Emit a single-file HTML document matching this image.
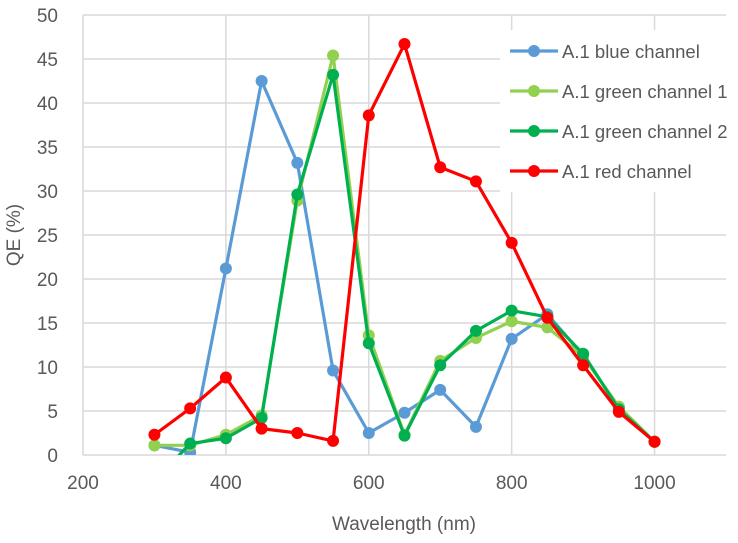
<!DOCTYPE html>
<html><head><meta charset="utf-8"><style>
body{margin:0;background:#fff}
svg text{font-family:"Liberation Sans",sans-serif;fill:#595959}
</style></head><body>
<svg id="chart" width="738" height="538">
<defs><clipPath id="clip"><rect x="83" y="10" width="643" height="445"/></clipPath></defs>
<g id="grid"></g><g id="axes"></g><g id="series" clip-path="url(#clip)"></g><g id="legend"></g>
</svg>
<script>
const wavelengths=[300,350,400,450,500,550,600,650,700,750,800,850,900,950,1000];
const blueVals=[1.1,0.3,21.2,42.5,33.2,9.6,2.5,4.8,7.4,3.2,13.2,16.0,11.3,5.4,1.5];
const green1Vals=[1.1,1.1,2.3,4.5,28.9,45.4,13.6,2.3,10.7,13.3,15.2,14.5,11.2,5.5,1.5];
const green2Vals=[-3,1.3,1.9,4.2,29.6,43.2,12.7,2.2,10.2,14.1,16.4,15.7,11.5,5.2,1.5];
const redVals=[2.3,5.3,8.8,3.0,2.5,1.6,38.6,46.7,32.7,31.1,24.1,15.6,10.2,4.9,1.5];
const xTicks=[200,400,600,800,1000];
const yTicks=[0,5,10,15,20,25,30,35,40,45,50];
const seriesNames=["A.1 blue channel","A.1 green channel 1","A.1 green channel 2","A.1 red channel"];
const NS="http://www.w3.org/2000/svg";
const X=v=>83+(v-200)*(643/900);
const Y=v=>455-v*8.8;
function mk(tag,attrs,parent){const e=document.createElementNS(NS,tag);for(const k in attrs)e.setAttribute(k,attrs[k]);parent.appendChild(e);return e;}
const grid=document.getElementById('grid'),axes=document.getElementById('axes'),ser=document.getElementById('series'),leg=document.getElementById('legend');
yTicks.forEach(t=>{
 const l=mk('line',{x1:83,x2:726,y1:Y(t),y2:Y(t),stroke:'#d9d9d9','stroke-width':1.5},grid);
 
 
 const tx=mk('text',{x:58,y:Y(t)+7,'text-anchor':'end','font-size':19},axes);tx.textContent=t;
 
 
});
xTicks.forEach(t=>{
 const l=mk('line',{x1:X(t),x2:X(t),y1:15,y2:455,stroke:'#d9d9d9','stroke-width':1.5},grid);
 
 
 const tx=mk('text',{x:X(t),y:489,'text-anchor':'middle','font-size':19},axes);tx.textContent=t;
 
 
});
const xt=mk('text',{x:404,y:530,'text-anchor':'middle','font-size':19},axes);xt.textContent='Wavelength (nm)';


const yt=mk('text',{x:0,y:0,'text-anchor':'middle','font-size':19,transform:'translate(20,235) rotate(-90)'},axes);yt.textContent='QE (%)';


const colors=['#5B9BD5','#92D050','#00B050','#FF0000'];
const allVals=[blueVals,green1Vals,green2Vals,redVals];
const slugs=['blue','green-1','green-2','red'];
allVals.forEach((vals,i)=>{
 const g=mk('g',{},ser);
 
 
 const pl=mk('polyline',{points:vals.map((v,j)=>X(wavelengths[j])+','+Y(v)).join(' '),fill:'none',stroke:colors[i],'stroke-width':3.2,'stroke-linejoin':'round'},g);
 
 
 vals.forEach((v,j)=>{
  const c=mk('circle',{cx:X(wavelengths[j]),cy:Y(v),r:6,fill:colors[i]},g);
  
  
 });
});
const lb=mk('rect',{x:500,y:30,width:226,height:162,fill:'#fff'},leg);


seriesNames.forEach((n,i)=>{
 const y=51+i*40;
 const g=mk('g',{},leg);
 
 
 mk('line',{x1:510,x2:558,y1:y,y2:y,stroke:colors[i],'stroke-width':3.2},g);
 mk('circle',{cx:534,cy:y,r:6,fill:colors[i]},g);
 const t=mk('text',{x:562,y:y+7,'font-size':18.5},g);t.textContent=n;
});
</script>
</body></html>
